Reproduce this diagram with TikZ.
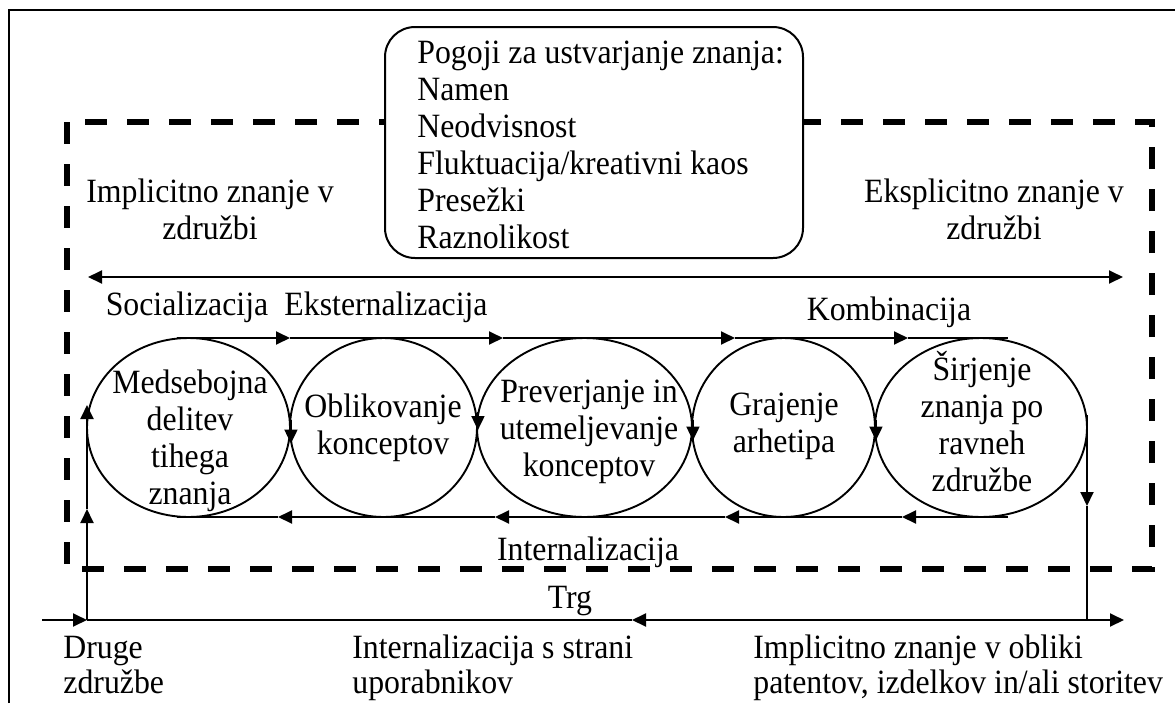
\documentclass[tikz,border=0pt]{standalone}
\usepackage{fontspec}
\usepackage{graphicx}
\setmainfont{Liberation Serif}
\usetikzlibrary{arrows.meta,shapes.geometric}
% stacked lines, slightly tall, whose baseline is that of the first line
\newcommand{\stack}[2][c]{\scalebox{1}[1.07]{\begin{tabular}[t]{@{}#1@{}}#2\end{tabular}}}

\begin{document}
\begin{tikzpicture}[x=0.5pt,y=-0.5pt,
  every node/.style={inner sep=0pt, font=\fontsize{15.9}{17.3}\selectfont},
  thinline/.style={line width=0.95pt},
  tip/.tip={Triangle[length=7pt,width=6.5pt]},
  flow/.style={thinline, -tip},
  phase/.style={ellipse, draw, thinline, minimum height=89.5pt},
  lbl/.style={anchor=base},
  lblw/.style={anchor=base west},
  lowlbl/.style={anchor=base west, font=\fontsize{15.9}{16.4}\selectfont},
]
\useasboundingbox (0,0) rectangle (1175,703);
\fill[white] (0,0) rectangle (1175,703);

% outer frame
\draw[line width=1pt] (9,703) -- (9,10) -- (1175,10);

% organisation boundary
\draw[line width=2.6pt, dash pattern=on 11pt off 10pt] (67,122) rectangle (1152,569);

% conditions box
\node[draw, line width=1pt, fill=white, rounded corners=15pt,
      minimum width=209pt, minimum height=115.5pt, anchor=north west] (cond) at (384,26) {};
\node[lblw] (condtext) at (417,63) {\stack[l]{Pogoji za ustvarjanje znanja:\\Namen\\Neodvisnost\\Fluktuacija/kreativni kaos\\Presežki\\Raznolikost}};

% tacit / explicit knowledge
\node[lbl] (tacit) at (210,202) {\stack{Implicitno znanje v\\združbi}};
\node[lbl] (explicit) at (994,202) {\stack{Eksplicitno znanje v\\združbi}};
\coordinate (da) at (88,277);
\coordinate (db) at (1123,277);
\draw[thinline, tip-tip] (da) -- (db);

% conversion modes
\node[lbl] (soc) at (187,315) {\stack{Socializacija}};
\node[lbl] (ext) at (386,315) {\stack{Eksternalizacija}};
\node[lbl] (comb) at (889,320) {\stack{Kombinacija}};
\node[lbl] (int) at (588,560) {\stack{Internalizacija}};

% phases
\node[phase, minimum width=101.5pt] (e1) at (188.5,427.5) {};
\node[phase, minimum width=93.5pt]  (e2) at (383.5,427.5) {};
\node[phase, minimum width=107.5pt] (e3) at (584.5,427.5) {};
\node[phase, minimum width=91.5pt]  (e4) at (783.5,427.5) {};
\node[phase, minimum width=106pt]   (e5) at (981,427.5) {};

\node[lbl] (t1) at (190,393) {\stack{Medsebojna\\delitev\\tihega\\znanja}};
\node[lbl] (t2) at (383,417) {\stack{Oblikovanje\\konceptov}};
\node[lbl] (t3) at (589,402) {\stack{Preverjanje in\\utemeljevanje\\konceptov}};
\node[lbl] (t4) at (784,415) {\stack{Grajenje\\arhetipa}};
\node[lbl] (t5) at (982,380) {\stack{Širjenje\\znanja po\\ravneh\\združbe}};

% upper flow
\coordinate (ta) at (177,338);
\coordinate (tb) at (290,338);
\coordinate (tc) at (503,338);
\coordinate (td) at (735,338);
\coordinate (te) at (908,338);
\coordinate (tf) at (1008,338);
\draw[flow] (ta) -- (tb);
\draw[flow] (tb) -- (tc);
\draw[flow] (tc) -- (td);
\draw[flow] (td) -- (te);
\draw[thinline] (te) -- (tf);

% arrowheads where phases meet
\draw[flow] ([yshift=4pt]e1.east) -- ([yshift=-8pt]e1.east);
\draw[flow] ([yshift=8pt]e2.east) -- ([yshift=-1.25pt]e2.east);
\draw[flow] ([yshift=4pt]e3.east) -- ([yshift=-6.5pt]e3.east);
\draw[flow] ([yshift=4pt]e4.east) -- ([yshift=-6.5pt]e4.east);

% lower flow
\coordinate (ba) at (1008,517);
\coordinate (bb) at (902,517);
\coordinate (bc) at (725,517);
\coordinate (bd) at (495,517);
\coordinate (be) at (278,517);
\coordinate (bf) at (177,517);
\draw[flow] (ba) -- (bb);
\draw[flow] (bb) -- (bc);
\draw[flow] (bc) -- (bd);
\draw[flow] (bd) -- (be);
\draw[thinline] (be) -- (bf);

% market
\coordinate (m0) at (42,620);
\coordinate (lb) at (87,620);
\coordinate (lm) at (87,509);
\coordinate (lt) at (87,405);
\coordinate (mq) at (632,620);
\coordinate (rt) at (1087,415);
\coordinate (rm) at (1087,506);
\coordinate (rb) at (1087,620);
\coordinate (m1) at (1124,620);
\draw[flow] (m0) -- (lb);
\draw[flow] (lb) -- (lm);
\draw[flow] (lm) -- (lt);
\draw[thinline] (lb) -- (mq);
\draw[flow] (rb) -- (mq);
\draw[flow] (rb) -- (m1);
\draw[flow] (rt) -- (rm);
\draw[thinline] (rm) -- (rb);
\node[lbl] (trg) at (570,608) {\stack{Trg}};

% outside parties
\node[lowlbl] (others) at (63,658) {\stack[l]{Druge\\združbe}};
\node[lowlbl] (users) at (352,658) {\stack[l]{Internalizacija s strani\\uporabnikov}};
\node[lowlbl] (products) at (753,658) {\stack[l]{Implicitno znanje v obliki\\patentov, izdelkov in/ali storitev}};
\end{tikzpicture}
\end{document}
